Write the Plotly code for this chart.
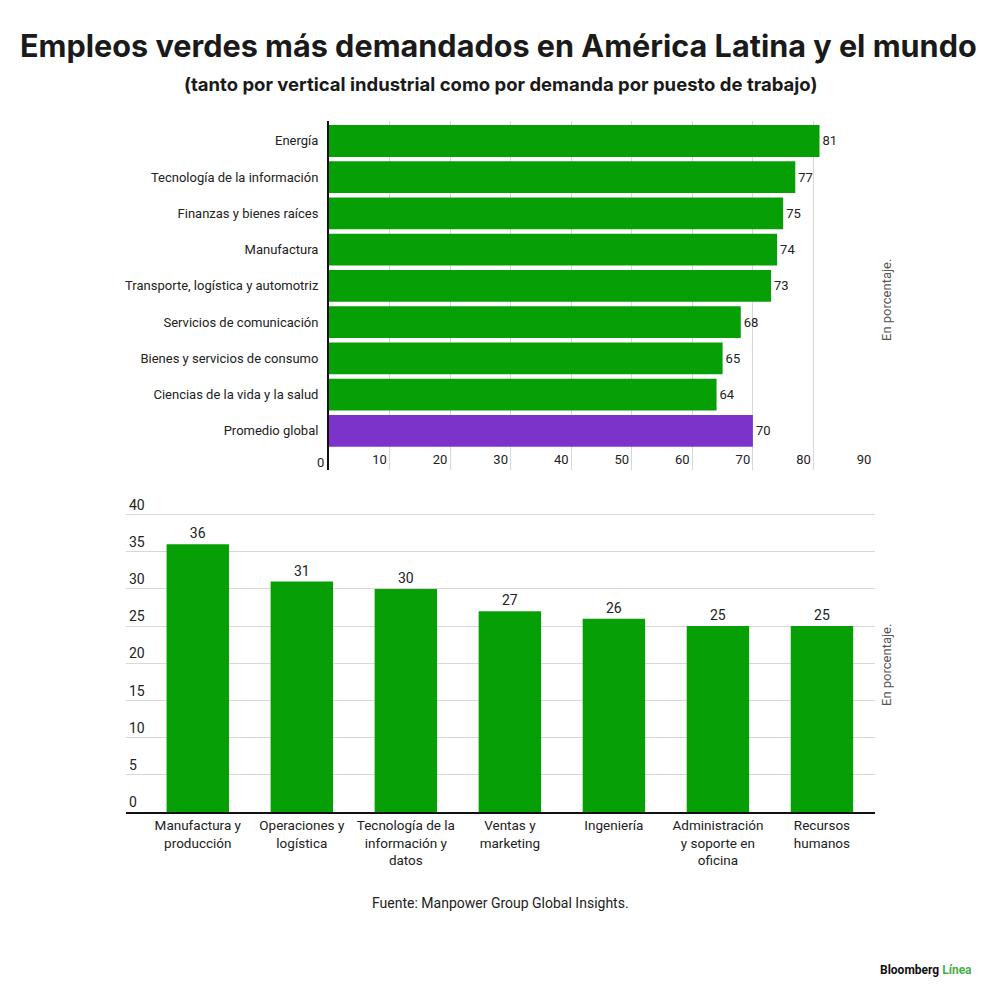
import plotly.graph_objects as go

# Industrias (porcentaje de empleos verdes)
sectores = [
    "Energía",
    "Tecnología de la información",
    "Finanzas y bienes raíces",
    "Manufactura",
    "Transporte, logística y automotriz",
    "Servicios de comunicación",
    "Bienes y servicios de consumo",
    "Ciencias de la vida y la salud",
    "Promedio global",
]
valores_sectores = [81, 77, 75, 74, 73, 68, 65, 64, 70]

# Puestos de trabajo
puestos = [
    "Manufactura y<br>producción",
    "Operaciones y<br>logística",
    "Tecnología de la<br>información y<br>datos",
    "Ventas y<br>marketing",
    "Ingeniería",
    "Administración<br>y soporte en<br>oficina",
    "Recursos<br>humanos",
]
valores_puestos = [36, 31, 30, 27, 26, 25, 25]

x_ticks_top = [0, 10, 20, 30, 40, 50, 60, 70, 80, 90]
y_ticks_bottom = [0, 5, 10, 15, 20, 25, 30, 35, 40]

GREEN = "#06a006"
PURPLE = "#7b33c9"
GRID = "#d8d8d8"
TEXT = "#222222"
FONT = "Roboto"

# the page body has an 8px margin, so the figure is 984px and positions are
# given in screen pixels and converted here
SIZE = 984
OFF = 8


def px(x):
    return (x - OFF) / SIZE


def py(y):
    return 1 - (y - OFF) / SIZE


colores_top = [PURPLE if s == "Promedio global" else GREEN for s in sectores]

fig = go.Figure()

fig.add_trace(go.Bar(
    x=valores_sectores,
    y=sectores,
    orientation="h",
    marker=dict(color=colores_top, line=dict(width=0)),
    text=valores_sectores,
    textposition="outside",
    textfont=dict(size=13, color=TEXT, family=FONT),
    cliponaxis=False,
    xaxis="x",
    yaxis="y",
    hoverinfo="skip",
))

fig.add_trace(go.Bar(
    x=puestos,
    y=valores_puestos,
    marker=dict(color=GREEN, line=dict(width=0)),
    text=valores_puestos,
    textposition="outside",
    textfont=dict(size=14, color=TEXT, family=FONT),
    cliponaxis=False,
    xaxis="x2",
    yaxis="y2",
    width=0.6,
    hoverinfo="skip",
))

fig.update_layout(
    width=SIZE,
    height=SIZE,
    margin=dict(l=0, r=0, t=0, b=0),
    paper_bgcolor="white",
    plot_bgcolor="white",
    showlegend=False,
    bargap=0.12,
    font=dict(family=FONT, size=13, color=TEXT),
    xaxis=dict(
        domain=[px(329), px(874)],
        range=[0, 90],
        tickvals=x_ticks_top,
        showgrid=True,
        gridcolor=GRID,
        gridwidth=1,
        zeroline=False,
        showline=False,
        ticks="",
        ticklabelposition="inside",
        ticklabelshift=-10,
        tickfont=dict(size=13, color=TEXT),
        anchor="y",
        fixedrange=True,
    ),
    yaxis=dict(
        domain=[py(470), py(121)],
        type="category",
        categoryorder="array",
        categoryarray=sectores,
        range=[9.08, -0.55],
        showgrid=False,
        zeroline=False,
        showline=True,
        linecolor="#111111",
        linewidth=2,
        ticks="",
        ticklabelstandoff=6,
        tickfont=dict(size=13, color=TEXT),
        anchor="x",
        fixedrange=True,
    ),
    xaxis2=dict(
        domain=[px(126), px(875)],
        type="category",
        range=[-0.69, 6.51],
        showgrid=False,
        zeroline=False,
        showline=True,
        linecolor="#111111",
        linewidth=2,
        ticks="",
        tickfont=dict(size=13.5, color=TEXT),
        anchor="y2",
        fixedrange=True,
    ),
    yaxis2=dict(
        domain=[py(812), py(496)],
        range=[0, 42.5],
        tickvals=y_ticks_bottom,
        showgrid=True,
        gridcolor=GRID,
        gridwidth=1,
        zeroline=False,
        showline=False,
        ticks="",
        ticklabelposition="inside top",
        tickfont=dict(size=14, color=TEXT),
        anchor="x2",
        fixedrange=True,
    ),
)

# "0" of the top axis sits left of the axis line, outside the plot area
fig.add_annotation(
    text=str(x_ticks_top[0]), x=x_ticks_top[0], y=py(462),
    xref="x", yref="paper", xshift=-9, showarrow=False,
    xanchor="center", yanchor="middle",
    font=dict(family=FONT, size=13, color=TEXT),
)

textos = [
    dict(text="<b>Empleos verdes más demandados en América Latina y el mundo</b>",
         x=498, y=45, size=30.6, color="#1a1a1a", weight=900, family="Inter"),
    dict(text="<b>(tanto por vertical industrial como por demanda por puesto de trabajo)</b>",
         x=500, y=84, size=18.5, color="#1a1a1a", weight=700, family="Inter"),
    dict(text="Fuente: Manpower Group Global Insights.",
         x=500, y=903, size=14, color=TEXT, weight=400, family=FONT),
]
for a in textos:
    fig.add_annotation(
        text=a["text"], x=px(a["x"]), y=py(a["y"]),
        xref="paper", yref="paper", showarrow=False,
        xanchor="center", yanchor="middle",
        font=dict(family=a["family"], size=a["size"], color=a["color"], weight=a["weight"]),
    )

for yc in [300, 665]:
    fig.add_annotation(
        text="En porcentaje.", x=px(886), y=py(yc),
        xref="paper", yref="paper", showarrow=False, textangle=-90,
        xanchor="center", yanchor="middle",
        font=dict(family=FONT, size=13, color="#555555"),
    )

fig.add_annotation(
    text="<b>Bloomberg</b> <span style='color:#45b045'><b>Línea</b></span>",
    x=px(974), y=py(970), xref="paper", yref="paper",
    showarrow=False, xanchor="right", yanchor="middle",
    font=dict(family=FONT, size=12, color="#111111"),
)

fig.write_html("out.html")
